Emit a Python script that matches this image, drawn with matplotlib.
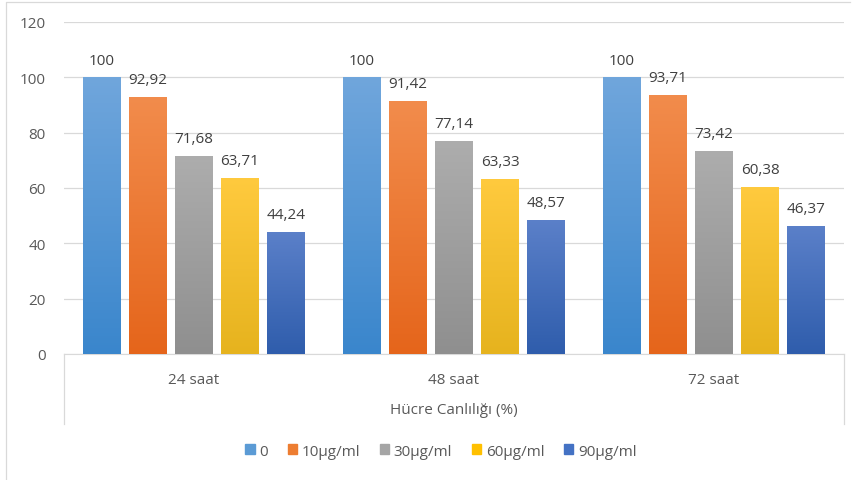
import numpy as np
import matplotlib.pyplot as plt
from matplotlib.colors import LinearSegmentedColormap, to_rgb
from matplotlib.patches import Patch
from matplotlib.lines import Line2D

categories = ['24 saat', '48 saat', '72 saat']
series = ['0', '10µg/ml', '30µg/ml', '60µg/ml', '90µg/ml']
values = [
    [100, 100, 100],
    [92.92, 91.42, 93.71],
    [71.68, 77.14, 73.42],
    [63.71, 63.33, 60.38],
    [44.24, 48.57, 46.37],
]
labels = [
    ['100', '100', '100'],
    ['92,92', '91,42', '93,71'],
    ['71,68', '77,14', '73,42'],
    ['63,71', '63,33', '60,38'],
    ['44,24', '48,57', '46,37'],
]
yticks = [0, 20, 40, 60, 80, 100, 120]

base = ['#5B9BD5', '#ED7D31', '#A5A5A5', '#FFC000', '#4472C4']
tops = ['#70A6DC', '#F28C4C', '#ADADAD', '#FFCA3E', '#5B80C9']
bottoms = ['#3A86CC', '#E5651B', '#8F8F8F', '#E6B31E', '#2F5DAC']

plt.rcParams['font.family'] = ['Open Sans', 'DejaVu Sans']

fig = plt.figure(figsize=(8.54, 4.81), dpi=100)
ax = fig.add_axes([64 / 854, 126 / 481, 780 / 854, 332 / 481])

step = 0.177
width = 0.146
x = np.arange(len(categories))

for j, name in enumerate(series):
    pos = x + (j - 2) * step
    bars = ax.bar(pos, values[j], width, color=base[j], zorder=2)
    cmap = LinearSegmentedColormap.from_list('g%d' % j, [to_rgb(bottoms[j]), to_rgb(tops[j])])
    grad = np.linspace(0, 1, 256).reshape(-1, 1)
    for b, lab in zip(bars, labels[j]):
        bx, by = b.get_x(), b.get_height()
        im = ax.imshow(grad, cmap=cmap, origin='lower', aspect='auto',
                       extent=[bx, bx + width, 0, by], zorder=3)
        im.set_clip_path(b)
        ax.annotate(lab, (bx + width / 2, by), xytext=(0, 7), textcoords='offset points',
                    ha='center', va='bottom', fontsize=11, color='#404040', zorder=4)

ax.set_xlim(-0.5, 2.5)
ax.set_ylim(0, 120)
ax.set_yticks(yticks)
ax.set_yticklabels([str(t) for t in yticks], fontsize=11, color='#595959')
ax.set_xticks(x)
ax.set_xticklabels(categories, fontsize=11, color='#595959')
ax.tick_params(axis='both', length=0)
ax.tick_params(axis='x', pad=13)
ax.tick_params(axis='y', pad=13)
ax.grid(axis='y', color='#D9D9D9', linewidth=0.9, zorder=0)
for s in ['top', 'right', 'left']:
    ax.spines[s].set_visible(False)
ax.spines['bottom'].set_color('#D9D9D9')
ax.set_axisbelow(True)

# category table lines
for xf in [64 / 854, 844 / 854]:
    fig.add_artist(Line2D([xf, xf], [126 / 481, 56 / 481], color='#D9D9D9', linewidth=0.9))

fig.text(454 / 854, 1 - 411 / 481, 'Hücre Canlılığı (%)', ha='center', va='center',
         fontsize=11, color='#595959')

handles = [Patch(color=c, label=s) for c, s in zip(base, series)]
fig.legend(handles=handles, loc='center', bbox_to_anchor=(441 / 854, 1 - 452 / 481),
           ncol=5, frameon=False, fontsize=11, handlelength=0.6, handleheight=0.6,
           handletextpad=0.3, columnspacing=1.3, labelcolor='#595959')

# outer border
fig.add_artist(Line2D([6 / 854, 6 / 854, 850 / 854], [0, 1 - 3 / 481, 1 - 3 / 481],
                      color='#D9D9D9', linewidth=0.9))

fig.savefig('out.png', dpi=100)
